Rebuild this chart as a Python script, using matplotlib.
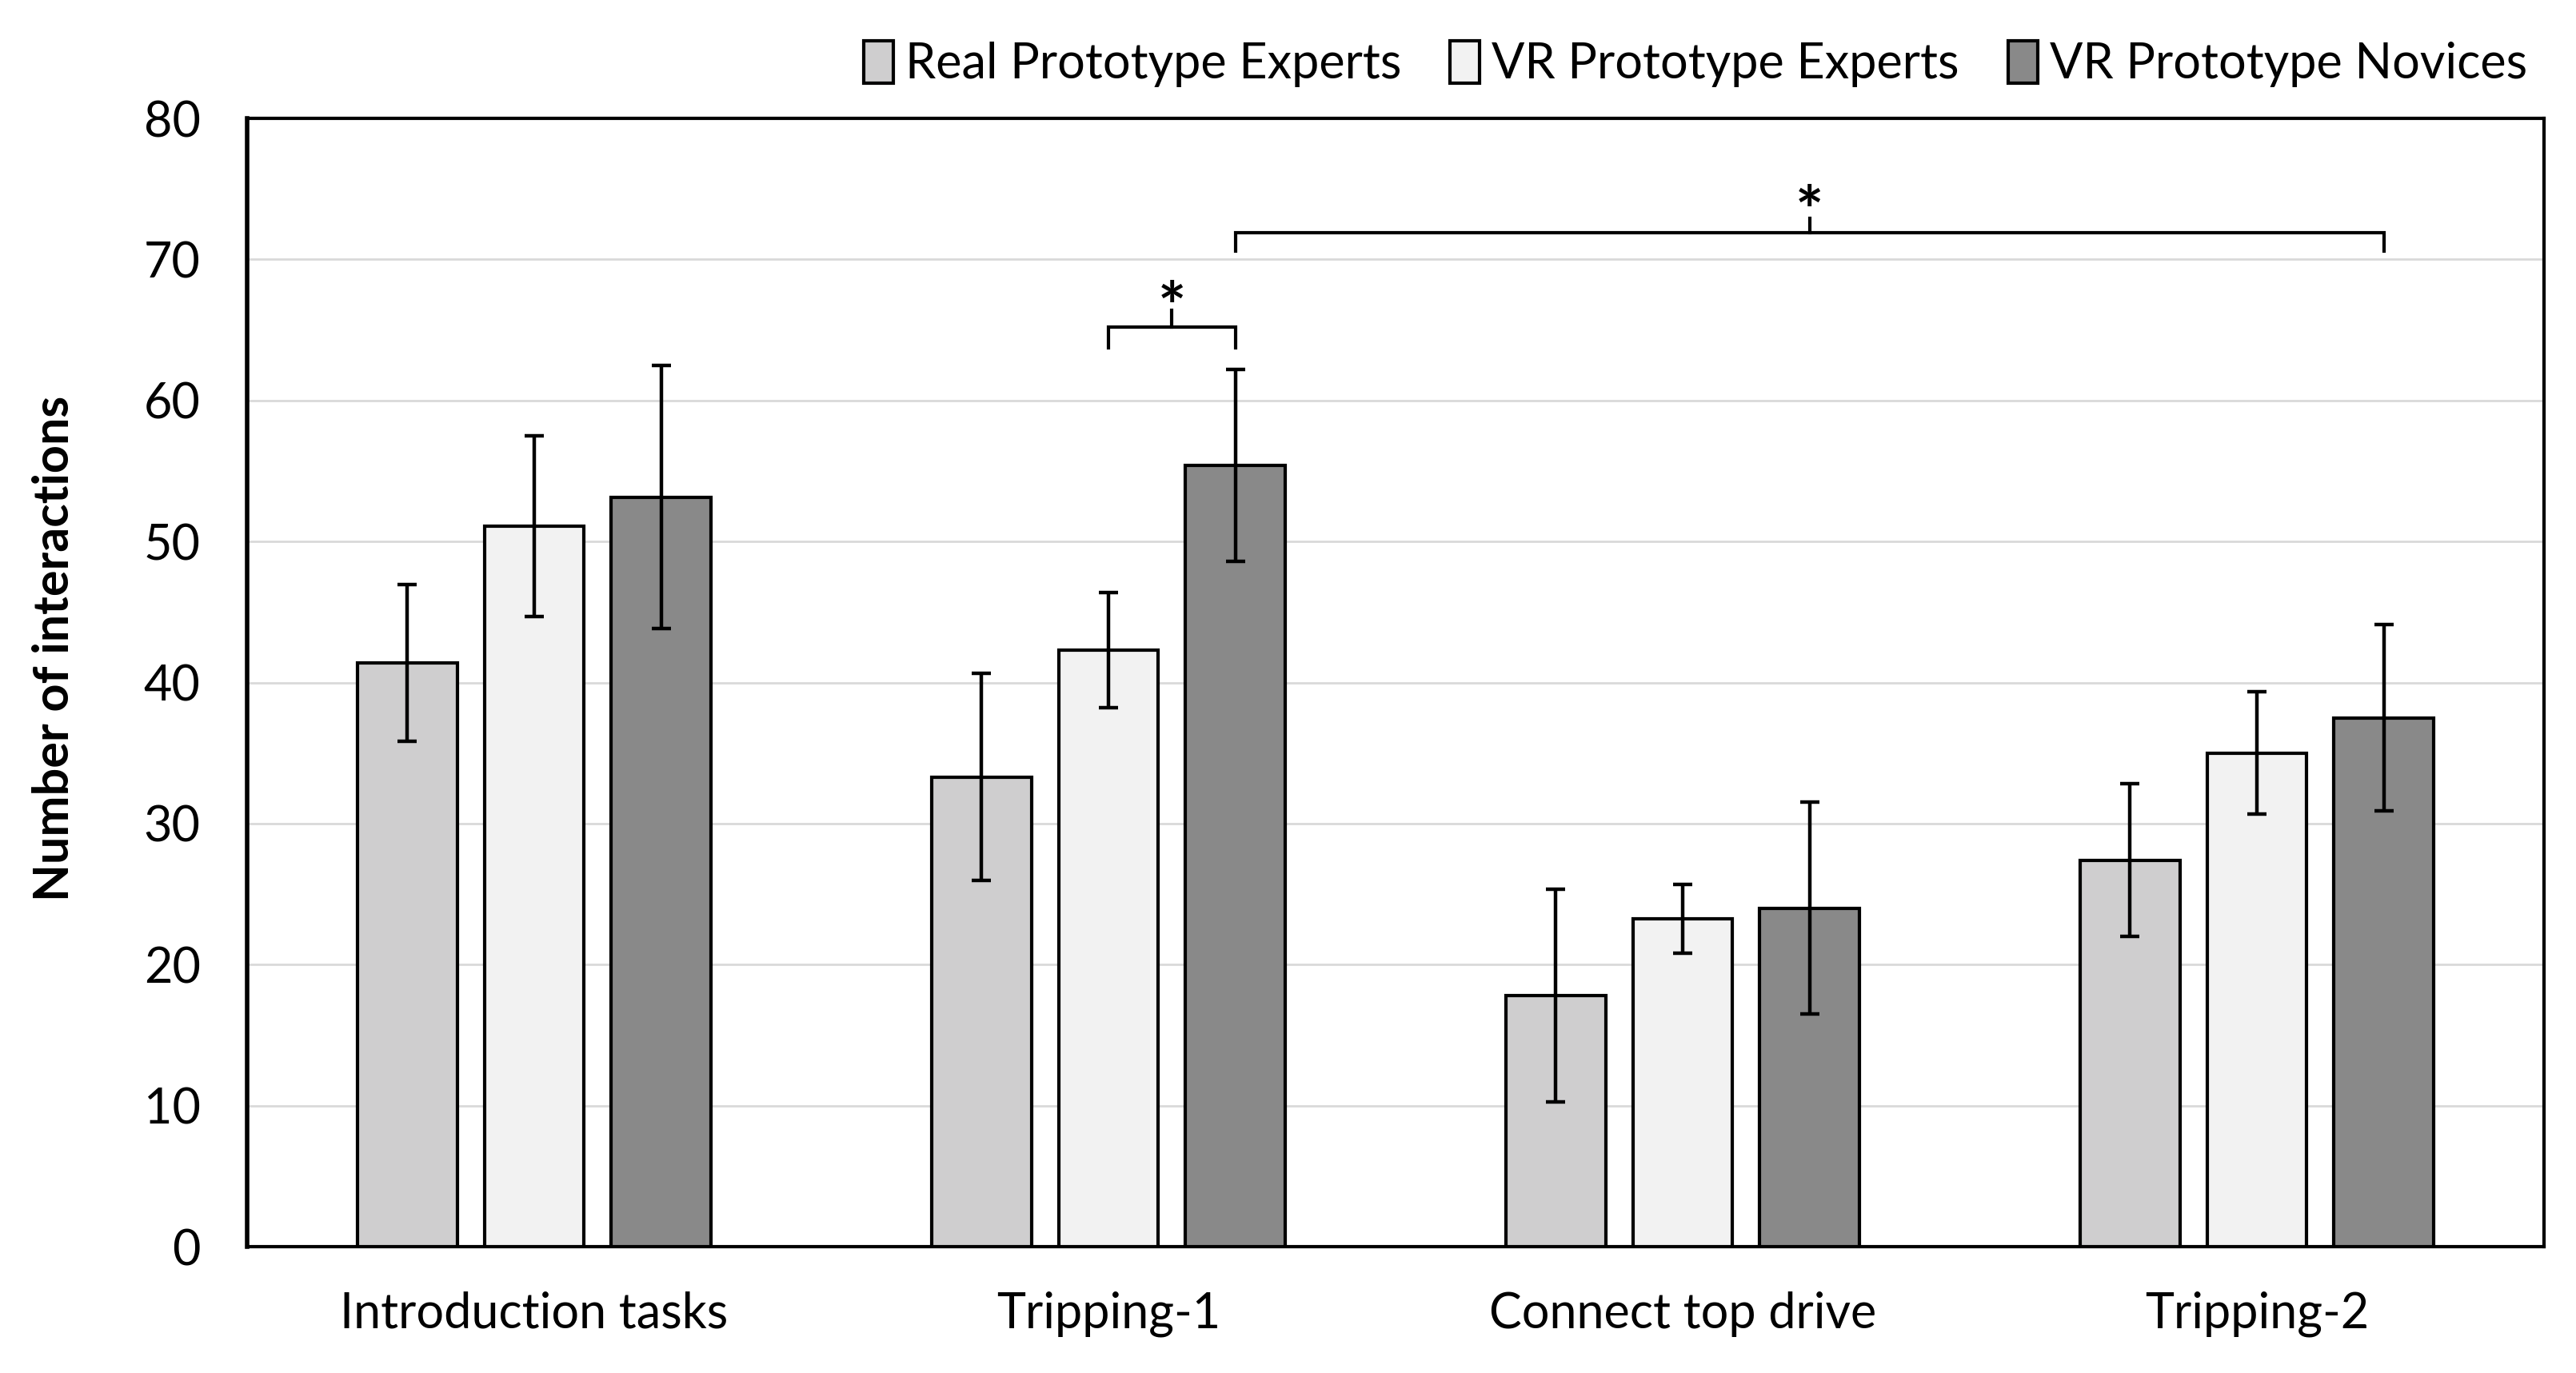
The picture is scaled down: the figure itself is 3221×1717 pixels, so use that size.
import matplotlib
matplotlib.use("Agg")
import matplotlib.pyplot as plt
from matplotlib.patches import Patch
import numpy as np

# ---- data ----
categories = ["Introduction tasks", "Tripping-1", "Connect top drive", "Tripping-2"]
series_names = ["Real Prototype Experts", "VR Prototype Experts", "VR Prototype Novices"]
real_experts = [41.4, 33.3, 17.8, 27.4]
real_experts_err = [5.55, 7.35, 7.55, 5.4]
vr_experts = [51.1, 42.3, 23.25, 35.0]
vr_experts_err = [6.4, 4.1, 2.45, 4.35]
vr_novices = [53.15, 55.4, 24.0, 37.5]
vr_novices_err = [9.35, 6.8, 7.5, 6.6]
y_ticks = [0, 10, 20, 30, 40, 50, 60, 70, 80]

colors = ["#cfcecf", "#f2f2f2", "#898989"]
FONT = "Lato"
plt.rcParams['font.family'] = [FONT, 'DejaVu Sans']

W, H = 3221, 1717
DPI = 200
fig = plt.figure(figsize=(W / DPI, H / DPI), dpi=DPI)
L, R, T, B = 309, 3181, 148, 1559
ax = fig.add_axes([L / W, 1 - B / H, (R - L) / W, (B - T) / H])

x = np.arange(len(categories))
offset = 0.221
width = 0.174
vals = [real_experts, vr_experts, vr_novices]
errs = [real_experts_err, vr_experts_err, vr_novices_err]
for i, (v, e) in enumerate(zip(vals, errs)):
    ax.bar(x + (i - 1) * offset, v, width, color=colors[i], edgecolor="black",
           linewidth=1.5, zorder=3)
    ax.errorbar(x + (i - 1) * offset, v, yerr=e, fmt="none", ecolor="black",
                elinewidth=1.6, capsize=4.2, capthick=1.6, zorder=4)

ax.set_xlim(-0.5, len(categories) - 0.5)
ax.set_ylim(0, 80)
ax.set_yticks(y_ticks)
ax.set_xticks(x)
ax.set_xticklabels(categories)
ax.yaxis.grid(True, color="#d9d9d9", linewidth=1.0, zorder=0)
ax.set_axisbelow(True)
ax.tick_params(axis="both", length=0, labelsize=22)
ax.tick_params(axis="y", pad=21)
ax.tick_params(axis="x", pad=20)
for s in ax.spines.values():
    s.set_linewidth(1.5)
    s.set_color("black")
ax.spines["left"].set_linewidth(2.0)

fig.text(68 / W, 1 - 811 / H, "Number of interactions", rotation=90,
         ha="center", va="center", fontsize=22, fontweight="bold")

# significance brackets
def bracket(x0, x1, y, leg, tick, star_y):
    ax.plot([x0, x0, x1, x1], [y - leg, y, y, y - leg], color="black",
            linewidth=1.5, solid_joinstyle="miter", clip_on=False, zorder=5)
    xm = (x0 + x1) / 2
    ax.plot([xm, xm], [y, y + tick], color="black", linewidth=1.5, clip_on=False, zorder=5)
    ax.text(xm, star_y, "*", ha="center", va="center", fontsize=30,
            fontweight="bold", zorder=6)

bracket(x[1], x[1] + offset, 65.2, 1.5, 1.2, 66.3)
bracket(x[1] + offset, x[3] + offset, 71.9, 1.3, 1.0, 73.1)

handles = [Patch(facecolor=c, edgecolor="black", linewidth=1.5) for c in colors]
fig.legend(handles, series_names, loc="center right",
           bbox_to_anchor=(3160 / W, 1 - 80 / H), ncol=3, frameon=False,
           fontsize=22, handlelength=0.6, handleheight=0.95, handletextpad=0.25,
           columnspacing=1.0, borderaxespad=0, borderpad=0)

fig.savefig("out.png", dpi=DPI)
